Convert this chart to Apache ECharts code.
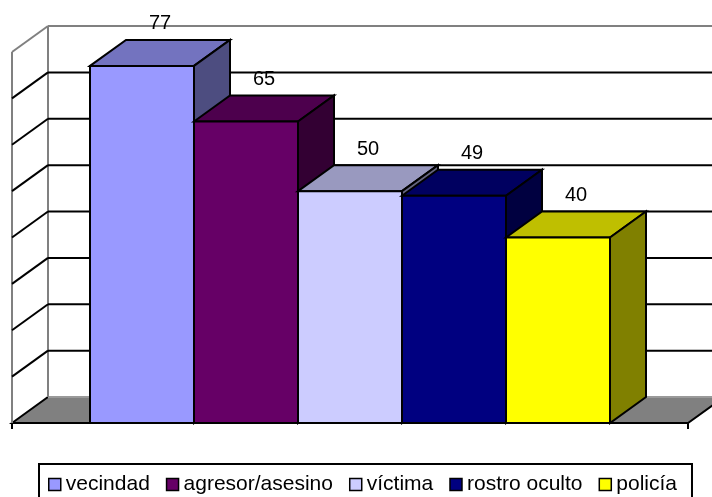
<!DOCTYPE html>
<html><head><meta charset="utf-8">
<script src="https://cdn.jsdelivr.net/npm/echarts@6/dist/echarts.min.js"></script>
<style>html,body{margin:0;padding:0;background:#fff}#c{width:712px;height:497px}</style>
</head><body><div id="c"></div>
<script>
const categories = ['vecindad', 'agresor/asesino', 'víctima', 'rostro oculto', 'policía'];
const values = [77, 65, 50, 49, 40];
const frontColors = ['#9999FF', '#660066', '#CCCCFF', '#000080', '#FFFF00'];
const topColors = ['#7373BF', '#4D004D', '#9999BF', '#000060', '#BFBF00'];
const sideColors = ['#4D4D80', '#330033', '#666680', '#000040', '#808000'];
const gridTicks = [10, 20, 30, 40, 50, 60, 70];

const DX = 36, DY = -26;           // 3D depth offset
const Y_MIN = 0, Y_MAX = 80, Y_INT = 10;
const X_MAX = 6.5, X_START = 0.75; // single category, gap width 150%
const FONT = '"Liberation Sans", Arial, sans-serif';

function line(a, b, color, w) {
  return { type: 'line', shape: { x1: a[0], y1: a[1], x2: b[0], y2: b[1] },
    style: { stroke: color, lineWidth: w } };
}
function off(p) { return [p[0] + DX, p[1] + DY]; }

function renderFrame(params, api) {
  const fl = api.coord([0, Y_MIN]);
  const fr = api.coord([X_MAX, Y_MIN]);
  const ft = api.coord([0, Y_MAX]);
  const frt = api.coord([X_MAX, Y_MAX]);
  return { type: 'group', children: [
    { type: 'polygon', shape: { points: [fl, off(fl), off(fr), fr] },
      style: { fill: '#808080', stroke: '#000', lineWidth: 2 } },
    line(off(fl), off(fr), '#9a9a9a', 2),
    line(off(fl), off(ft), '#808080', 2),
    line(off(ft), off(frt), '#808080', 2),
    line(ft, fl, '#808080', 2),
    line(ft, off(ft), '#808080', 2)
  ]};
}

function renderGrid(params, api) {
  const v = api.value(1);
  const p = api.coord([0, v]);
  const pr = api.coord([X_MAX, v]);
  return { type: 'group', children: [
    line(p, off(p), '#000', 2),
    line(off(p), off(pr), '#000', 2)
  ]};
}

function makeBarRender(idx) {
  return function (params, api) {
    const i = api.value(0), v = api.value(1);
    const p0 = api.coord([X_START + i, 0]);
    const p1 = api.coord([X_START + i + 1, v]);
    const x0 = p0[0], x1 = p1[0], yb = p0[1], yt = p1[1];
    const st = { stroke: '#000', lineWidth: 2, lineJoin: 'miter' };
    return { type: 'group', children: [
      { type: 'polygon', shape: { points: [[x0, yt], [x0 + DX, yt + DY], [x1 + DX, yt + DY], [x1, yt]] },
        style: Object.assign({ fill: topColors[idx] }, st) },
      { type: 'polygon', shape: { points: [[x1, yt], [x1 + DX, yt + DY], [x1 + DX, yb + DY], [x1, yb]] },
        style: Object.assign({ fill: sideColors[idx] }, st) },
      { type: 'rect', shape: { x: x0, y: yt, width: x1 - x0, height: yb - yt },
        style: Object.assign({ fill: frontColors[idx] }, st) },
      { type: 'text', style: { x: (x0 + x1) / 2 + DX / 2, y: yt + DY - 16, text: String(v),
        fill: '#000', fontSize: 20, fontFamily: FONT, align: 'center', verticalAlign: 'middle' } }
    ]};
  };
}

const series = [
  { type: 'custom', name: '_frame', z: 1, clip: false, silent: true,
    data: [[0, 0]], renderItem: renderFrame },
  { type: 'custom', name: '_grid', z: 2, clip: false, silent: true,
    data: gridTicks.map(t => [0, t]), renderItem: renderGrid }
];
categories.forEach((name, i) => {
  series.push({ type: 'custom', name: name, z: 3 + i, clip: false,
    itemStyle: { color: frontColors[i] },
    data: [[i, values[i]]], renderItem: makeBarRender(i) });
});

const chart = echarts.init(document.getElementById('c'));
chart.setOption({
  animation: false,
  backgroundColor: '#fff',
  grid: { left: 12, right: 24, top: 52, bottom: 74 },
  xAxis: { type: 'value', min: 0, max: X_MAX, interval: X_MAX,
    axisLine: { show: true, lineStyle: { color: '#000', width: 2 } },
    axisTick: { show: true, length: 6, lineStyle: { color: '#000', width: 2 } },
    axisLabel: { show: false }, splitLine: { show: false } },
  yAxis: { type: 'value', min: Y_MIN, max: Y_MAX, interval: Y_INT, show: false },
  legend: { data: categories, top: 464, left: 39, icon: 'rect', selectedMode: false,
    itemWidth: 12, itemHeight: 12, itemGap: 16, padding: [10, 15, 20, 9],
    borderColor: '#000', borderWidth: 2,
    itemStyle: { borderColor: '#000', borderWidth: 1.5 },
    textStyle: { fontSize: 21, fontFamily: FONT, color: '#000' } },
  series: series
});
</script></body></html>
